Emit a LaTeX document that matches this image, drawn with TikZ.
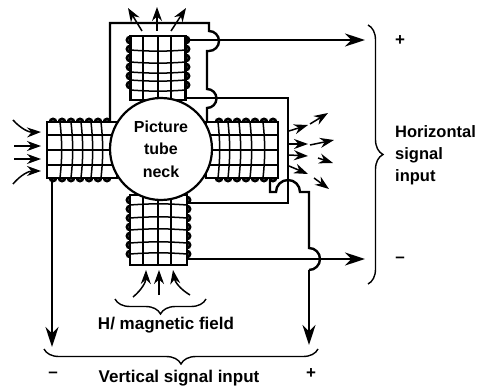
\documentclass[tikz,border=0pt]{standalone}
\usepackage{fontspec}
\setmainfont{Liberation Sans}
\usetikzlibrary{arrows.meta,decorations.pathreplacing}

\begin{document}
\begin{tikzpicture}[
  x=1pt, y=-1pt,
  coil/.style={draw, line width=2.2pt, inner sep=0pt},
  neckbox/.style={draw, circle, fill=white, line width=2.2pt, minimum size=102pt, inner sep=0pt, align=center, font=\fontsize{16}{22.5}\selectfont\bfseries},
  wire/.style={line width=2.4pt},
  grid/.style={line width=1.5pt},
  winding/.style={line width=2.8pt},
  lead/.style={wire, -{Stealth[length=20pt, width=13pt]}},
  field/.style={line width=1.5pt, -{Stealth[length=14pt, width=10pt]}},
  bracket/.style={line width=1.4pt, decorate, decoration={brace, amplitude=15pt}},
  label/.style={font=\fontsize{17}{22}\selectfont\bfseries, align=left},
]
\useasboundingbox (0,0) rectangle (479,390);

% coils
\node[coil, minimum width=55pt, minimum height=64pt] (topcoil) at (158,68) {};
\node[coil, minimum width=57pt, minimum height=70pt] (botcoil) at (158.5,230) {};
\node[coil, minimum width=70pt, minimum height=56pt] (leftcoil) at (82,150) {};
\node[coil, minimum width=72pt, minimum height=56pt] (rightcoil) at (242,150) {};

% windings
\foreach \y in {50,62,72,80,90}
  \draw[grid] (130,\y) to[bend right=4] (186,\y);
\foreach \y in {205,218,230,243,254}
  \draw[grid] (130,\y) to[bend left=4] (187,\y);
\foreach \x in {143,158,171} {
  \draw[grid] (\x,36) -- (\x,100);
  \draw[grid] (\x,195) -- (\x,265);
}
\foreach \x in {60,71,81,91,101}
  \draw[grid] (\x,122) to[bend left=6] (\x,178);
\foreach \x in {218,228,239,250,263}
  \draw[grid] (\x,122) to[bend left=6] (\x,178);
\foreach \y in {135,150,165}
  \draw[grid] (47,\y) -- (112,\y) (210,\y) -- (278,\y);
\foreach \y in {43,52,61,70,79,88} {
  \draw[winding] (130,\y) arc[start angle=90, end angle=270, radius=3];
  \draw[winding] (186,\y) arc[start angle=90, end angle=-90, radius=3];
}
\foreach \y in {203,212,221,230,239,248,257} {
  \draw[winding] (130,\y) arc[start angle=90, end angle=270, radius=3];
  \draw[winding] (187,\y) arc[start angle=90, end angle=-90, radius=3];
}
\foreach \x in {50,59,68,77,86,95,104} {
  \draw[winding] (\x,122) arc[start angle=180, end angle=360, radius=3];
  \draw[winding] (\x,178) arc[start angle=180, end angle=0, radius=3];
}
\foreach \x in {216,225,234,243,252,261,270} {
  \draw[winding] (\x,122) arc[start angle=180, end angle=360, radius=3];
  \draw[winding] (\x,178) arc[start angle=180, end angle=0, radius=3];
}

% free ends of the leads
\coordinate (hplus) at (365,40);
\coordinate (hminus) at (365,259);
\coordinate (vplus) at (309,345);
\coordinate (vminus) at (52,347);

% wires
\draw[wire] (110,122) -- (110,23) -- (209,23) -- (209,31)
  arc[start angle=-90, end angle=90, radius=10] -- (207,51) -- (207,89)
  arc[start angle=-90, end angle=90, radius=9.5] -- (207,122);
\draw[wire] (topcoil.east |- 0,98) -- (288,98) -- (288,203) -- (botcoil.east |- 0,203);
\draw[wire] (270,178) -- (270,192) -- (276,192)
  arc[start angle=180, end angle=360, radius=12] -- (309,192) -- (309,248)
  arc[start angle=-90, end angle=90, radius=11] -- (309,270);
\draw[lead] (309,270) -- (vplus);
\draw[lead] (topcoil.east |- hplus) -- (hplus);
\draw[lead] (botcoil.east |- hminus) -- (hminus);
\draw[lead] (leftcoil.west -| vminus) ++(0,28) -- (vminus);

% picture tube neck
\node[neckbox] (neck) at (161,149) {Picture\\tube\\neck};

% field arrows
\draw[field] (142,31) -- (128,8);
\draw[field] (157,31) -- (157,7);
\draw[field] (171,31) -- (186,8);
\draw[field] (13,120) to[bend right=25] (41,132);
\draw[field] (14,146) -- (41,146);
\draw[field] (14,159) -- (41,159);
\draw[field] (13,184) to[bend left=25] (41,171);
\draw[field] (133,297) to[bend right=25] (146,270);
\draw[field] (159,295) -- (159,270);
\draw[field] (190,295) to[bend left=25] (173,270);
\draw[field] (289,131) -- (308,125);
\draw[field] (310,124) -- (328,113);
\draw[field] (289,144) -- (308,144);
\draw[field] (310,145) -- (334,140);
\draw[field] (289,155) -- (308,156);
\draw[field] (318,158) -- (333,163);
\draw[field] (289,166) -- (308,174);
\draw[field] (314,178) -- (329,189);

% braces
\coordinate (hbrtop) at (368,25);
\coordinate (hbrbot) at (368,284);
\coordinate (vbrleft) at (44,349);
\coordinate (vbrright) at (318,349);
\coordinate (mbrleft) at (115,299);
\coordinate (mbrright) at (206,299);
\draw[bracket] (hbrtop) -- (hbrbot);
\draw[bracket] (vbrright) -- (vbrleft);
\draw[bracket] (mbrright) -- (mbrleft);

% labels
\node[label, anchor=west, inner sep=0pt, font=\fontsize{16.5}{22}\selectfont\bfseries] (hlabel) at (395,155) {Horizontal\\signal\\input};
\node[label, inner sep=0pt] (hpluslabel) at (400,41) {+};
\node[label, inner sep=0pt] (hminuslabel) at (400,260) {--};
\node[label, inner sep=0pt] (mlabel) at (166,325) {H/ magnetic field};
\node[label, inner sep=0pt] (vlabel) at (179,378) {Vertical signal input};
\node[label, inner sep=0pt] (vminuslabel) at (53,375) {--};
\node[label, inner sep=0pt] (vpluslabel) at (311,374) {+};
\end{tikzpicture}
\end{document}
